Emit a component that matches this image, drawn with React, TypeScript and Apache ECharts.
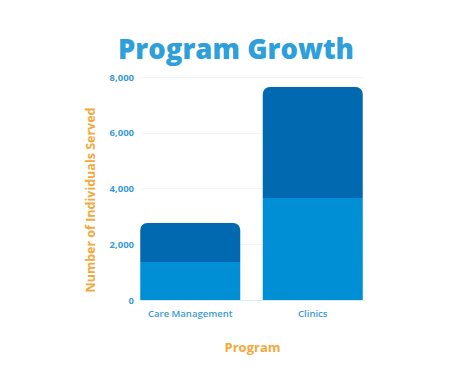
import React, { useEffect, useRef } from "react";
import * as echarts from "echarts";

const categories = ["Care Management", "Clinics"];
const baseValues = [1360, 3660];
const topValues = [1400, 3980];
const yTicks = [0, 2000, 4000, 6000, 8000];

export default function App() {
  const ref = useRef<HTMLDivElement>(null);
  useEffect(() => {
    if (!ref.current) return;
    const chart = echarts.init(ref.current, undefined, { renderer: "svg" });
    const labelColor = "#3A9AD9";
    const yMin = yTicks[0];
    const yMax = yTicks[yTicks.length - 1];
    chart.setOption({
      animation: false,
      backgroundColor: "#ffffff",
      title: {
        text: "Program Growth",
        left: "center",
        top: 21,
        textStyle: {
          fontFamily: "Open Sans",
          fontWeight: 800,
          fontSize: 27.5,
          color: "#2E9FDB",
        },
      },
      graphic: [
        {
          type: "text",
          x: 82,
          y: 192,
          rotation: Math.PI / 2,
          style: {
            text: "Number of Individuals Served",
            fill: "#F5A83A",
            font: "bold 12.5px 'Open Sans'",
            align: "center",
            verticalAlign: "middle",
          },
        },
      ],
      grid: [
        { left: 121, right: 90, top: 69, bottom: 71 },
        { left: 133, right: 100, top: 69, bottom: 71 },
      ],
      xAxis: [
        {
          type: "category",
          gridIndex: 0,
          data: categories,
          axisLine: { show: false },
          axisTick: { show: false },
          axisLabel: { interval: 0, color: labelColor, fontSize: 9.5, fontWeight: 600, fontFamily: "Open Sans", margin: 8 },
        },
        {
          type: "value",
          gridIndex: 1,
          min: 0,
          max: 1,
          name: "Program",
          nameLocation: "middle",
          nameGap: 40,
          nameTextStyle: { color: "#F5A83A", fontSize: 13, fontWeight: "bold", fontFamily: "Open Sans" },
          axisLine: { show: true, lineStyle: { color: "#D6ECF8" } },
          axisTick: { show: false },
          axisLabel: { show: false },
          splitLine: { show: false },
        },
      ],
      yAxis: [
        {
          type: "value",
          gridIndex: 0,
          min: yMin,
          max: yMax,
          interval: 2000,
          axisLine: { show: false },
          axisTick: { show: false },
          axisLabel: { show: false },
          splitLine: { show: false },
        },
        {
          type: "value",
          gridIndex: 1,
          min: yMin,
          max: yMax,
          interval: 2000,
          axisLine: { show: false },
          axisTick: { show: false },
          splitLine: { lineStyle: { color: "#EEF6FC" } },
          axisLabel: {
            color: labelColor,
            fontSize: 9.5,
            fontWeight: "bold",
            fontFamily: "Open Sans",
            margin: 7,
            formatter: (v: number) => v.toLocaleString("en-US"),
          },
        },
      ],
      series: [
        {
          type: "bar",
          stack: "total",
          xAxisIndex: 0,
          yAxisIndex: 0,
          data: baseValues,
          barWidth: 100,
          z: 3,
          itemStyle: { color: "#008FD5" },
        },
        {
          type: "bar",
          stack: "total",
          xAxisIndex: 0,
          yAxisIndex: 0,
          data: topValues,
          barWidth: 100,
          z: 3,
          itemStyle: { color: "#0069B0", borderRadius: [7, 7, 0, 0] },
        },
      ],
    });
    return () => chart.dispose();
  }, []);
  return <div ref={ref} style={{ width: 456, height: 363 }} />;
}
